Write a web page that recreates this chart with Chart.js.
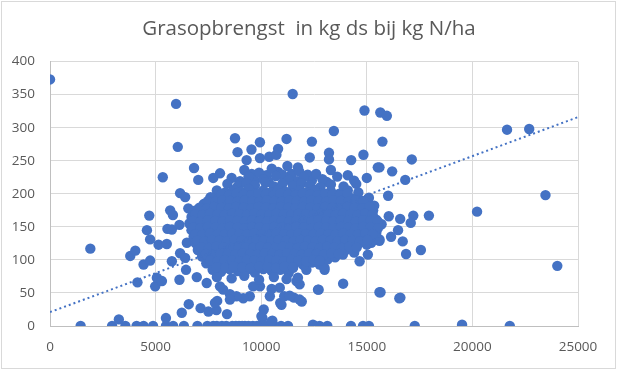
<!DOCTYPE html>
<html>
<head>
<meta charset="utf-8">
<script src="https://cdn.jsdelivr.net/npm/chart.js@4/dist/chart.umd.min.js"></script>
<style>
html,body{margin:0;padding:0;background:#fff;}
#wrap{position:relative;width:618px;height:372px;}
#frame{position:absolute;left:1px;top:1px;width:613px;height:366px;border:1px solid #d9d9d9;pointer-events:none;}
</style>
</head>
<body>
<div id="wrap"><canvas id="c" width="618" height="372"></canvas><div id="frame"></div></div>
<script>
const titel = 'Grasopbrengst  in kg ds bij kg N/ha';
const xTicks = [0, 5000, 10000, 15000, 20000, 25000];
const yTicks = [0, 50, 100, 150, 200, 250, 300, 350, 400];
// trendline endpoints
const trendX = [0, 25000];
const trendY = [21, 316];

// outlying measurements [x, y]
const uitschieters = [
[0,373],[1910,117],[5970,336],[6050,271],[11490,351],[14890,326],[15640,323],[15950,318],[13440,295],
[15740,279],[11200,283],[9940,278],[8760,284],[12400,279],[9540,267],[8880,263],[10800,268],[9940,254],
[10380,256],[10720,259],[9310,251],[13210,262],[13210,252],[14840,259],[12300,255],[14260,251],[15520,240],
[8050,231],[7730,224],[11240,242],[11740,240],[17130,252],[16200,234],[16820,221],[15600,240],[16010,197],
[21640,297],[22690,298],[23460,198],[20220,173],[17940,167],[17200,167],[16580,162],[17080,156],[16040,166],
[16480,145],[16150,135],[15600,129],[16700,128],[16860,109],[17560,115],[24020,91],[15650,51],[16540,42]
];
// measurements at or near zero
const laag = [
[1450,0],[2940,0],[3570,0],[4100,0],[4430,0],[4880,0],[5490,0],[5830,0],[6340,0],[6980,0],[7450,0],[7730,0],
[8140,0],[8630,0],[8950,0],[9230,0],[9600,0],[9970,0],[10400,0],[10940,0],[11270,0],[12520,0],[12760,0],
[13130,0],[14250,0],[14820,0],[15100,0],[17270,0],[19510,2],[21770,0],[7900,0],[8350,0],[8800,0],[9100,0],
[9400,0],[9800,0],[10200,0],[10600,0],
[3260,10],[5490,12],[6240,20],[6570,33],[7130,27],[7500,22],[7880,24],[8380,18],[7915,38],[10060,12],
[10120,25],[10530,8],[10900,35],[11090,45],[11550,43],[11920,37],[12720,55],[13880,64],[15600,51],[16590,43],
[12450,2],[7810,35],[10010,15],[10490,7],[10410,45],[10960,32],[10880,58],[11350,46],[11820,40],[10490,56],
[9940,60],[9460,45],[9150,42],[8830,45],[8520,48],[8200,55],[12690,55],[8520,40],[8050,60],[9620,60],
[11670,68],[11820,63]
];
// measurements around the main cloud
const rand = [
[4140,66],[4980,60],[5060,73],[5300,68],[6130,70],[6950,74],[7420,65],[3800,106],[4040,114],[4430,93],
[4740,99],[5770,98],[6160,110],[6440,85],[6400,103],[4740,131],[5140,123],[4590,145],[5530,124],[5560,147],
[5770,146],[6130,153],[6480,126],[4700,167],[5690,175],[5820,168],[6550,178],[6160,201],[6400,195],[7260,183],
[7660,178],[6950,166],[7260,156],[7020,141],[5340,225],[6820,239],[7020,221],
[12770,93],[13000,85],[13870,108],[14660,98],[15050,108],[15210,126],[15600,131],[12140,85],[11740,73],
[11510,88],[12610,98],[13000,88],
[9550,230],[10250,228],[10800,233],[11450,230],[12200,229],[9000,219],[9700,220],[10350,218],[11100,221],
[11700,219],[12400,220],[13100,218]
];
// main cloud
const kern = [
[9200,236],[9900,232],[10500,238],[11000,229],[11800,234],[12600,230],[13300,236],[14100,228],
[8600,224],[9400,226],[10100,222],[10700,227],[11300,221],[12000,225],[12900,222],[13600,226],[14400,220],[15000,224],
[8400,215],[8900,212],[9300,216],[9700,213],[10200,217],[10600,211],[11000,215],[11500,212],[11900,216],[12300,213],[12800,210],[13300,214],[13900,211],[14500,215],
[7900,205],[8300,202],[8700,206],[9050,203],[9400,207],[9750,201],[10100,205],[10450,202],[10800,206],[11150,203],[11500,200],[11850,205],[12200,202],[12550,206],[12900,201],[13300,204],[13700,200],[14100,205],[14600,202],
[7600,195],[7950,192],[8300,196],[8650,193],[9000,195],[9350,191],[9700,196],[10050,193],[10400,195],[10750,191],[11100,196],[11450,193],[11800,195],[12150,191],[12500,196],[12850,193],[13200,195],[13550,191],[13900,196],[14300,193],[14700,190],[15100,194],
[7300,185],[7650,182],[8000,186],[8350,183],[8700,185],[9050,181],[9400,186],[9750,183],[10100,185],[10450,181],[10800,186],[11150,183],[11500,185],[11850,181],[12200,186],[12550,183],[12900,185],[13250,181],[13600,186],[13950,183],[14300,185],[14650,181],[15000,186],[15350,182],
[6900,175],[7250,172],[7600,176],[7950,173],[8300,175],[8650,171],[9000,176],[9350,173],[9700,175],[10050,171],[10400,176],[10750,173],[11100,175],[11450,171],[11800,176],[12150,173],[12500,175],[12850,171],[13200,176],[13550,173],[13900,175],[14250,171],[14600,176],[14950,173],[15300,175],
[6700,165],[7050,162],[7400,166],[7750,163],[8100,165],[8450,161],[8800,166],[9150,163],[9500,165],[9850,161],[10200,166],[10550,163],[10900,165],[11250,161],[11600,166],[11950,163],[12300,165],[12650,161],[13000,166],[13350,163],[13700,165],[14050,161],[14400,166],[14750,163],[15100,165],[15450,161],
[6600,155],[6950,152],[7300,156],[7650,153],[8000,155],[8350,151],[8700,156],[9050,153],[9400,155],[9750,151],[10100,156],[10450,153],[10800,155],[11150,151],[11500,156],[11850,153],[12200,155],[12550,151],[12900,156],[13250,153],[13600,155],[13950,151],[14300,156],[14650,153],[15000,155],[15350,151],[15700,154],
[6700,145],[7050,142],[7400,146],[7750,143],[8100,145],[8450,141],[8800,146],[9150,143],[9500,145],[9850,141],[10200,146],[10550,143],[10900,145],[11250,141],[11600,146],[11950,143],[12300,145],[12650,141],[13000,146],[13350,143],[13700,145],[14050,141],[14400,146],[14750,143],[15100,145],[15450,141],
[6800,135],[7150,132],[7500,136],[7850,133],[8200,135],[8550,131],[8900,136],[9250,133],[9600,135],[9950,131],[10300,136],[10650,133],[11000,135],[11350,131],[11700,136],[12050,133],[12400,135],[12750,131],[13100,136],[13450,133],[13800,135],[14150,131],[14500,136],[14850,133],[15200,135],
[6900,125],[7250,122],[7600,126],[7950,123],[8300,125],[8650,121],[9000,126],[9350,123],[9700,125],[10050,121],[10400,126],[10750,123],[11100,125],[11450,121],[11800,126],[12150,123],[12500,125],[12850,121],[13200,126],[13550,123],[13900,125],[14250,121],[14600,126],[15000,123],
[7000,115],[7350,112],[7700,116],[8050,113],[8400,115],[8750,111],[9100,116],[9450,113],[9800,115],[10150,111],[10500,116],[10850,113],[11200,115],[11550,111],[11900,116],[12250,113],[12600,115],[12950,111],[13300,116],[13650,113],[14000,115],[14400,111],
[7200,105],[7550,102],[7900,106],[8250,103],[8600,105],[8950,101],[9300,106],[9650,103],[10000,105],[10350,101],[10700,106],[11050,103],[11400,105],[11750,101],[12100,106],[12450,103],[12800,105],[13150,101],[13500,104],
[7400,95],[7750,92],[8100,96],[8450,93],[8800,95],[9150,91],[9500,96],[9850,93],[10200,95],[10550,91],[10900,96],[11250,93],[11600,95],[12000,92],[12400,96],
[7700,85],[8100,82],[8500,86],[8900,83],[9300,85],[9700,81],[10100,86],[10500,83],[10900,85],[11300,80],
[7900,74],[8600,72],[9200,76],[9900,70],[10600,74],[11200,71]
];
// additional measurements filling the densest part of the cloud
const kern2 = [
[8125,199],[8475,198],[8825,200],[9175,199],[9525,198],[9875,200],[10225,199],[10575,198],[10925,200],[11275,199],[11625,198],[11975,200],[12325,199],[12675,198],[13025,200],[13375,199],[13725,198],[14075,200],
[7475,189],[7825,188],[8175,190],[8525,189],[8875,188],[9225,190],[9575,189],[9925,188],[10275,190],[10625,189],[10975,188],[11325,190],[11675,189],[12025,188],[12375,190],[12725,189],[13075,188],[13425,190],[13775,189],[14125,188],[14475,190],[14825,189],
[7075,179],[7425,178],[7775,180],[8125,179],[8475,178],[8825,180],[9175,179],[9525,178],[9875,180],[10225,179],[10575,178],[10925,180],[11275,179],[11625,178],[11975,180],[12325,179],[12675,178],[13025,180],[13375,179],[13725,178],[14075,180],[14425,179],[14775,178],[15125,180],
[6875,169],[7225,168],[7575,170],[7925,169],[8275,168],[8625,170],[8975,169],[9325,168],[9675,170],[10025,169],[10375,168],[10725,170],[11075,169],[11425,168],[11775,170],[12125,169],[12475,168],[12825,170],[13175,169],[13525,168],[13875,170],[14225,169],[14575,168],[14925,170],[15275,169],
[6775,159],[7125,158],[7475,160],[7825,159],[8175,158],[8525,160],[8875,159],[9225,158],[9575,160],[9925,159],[10275,158],[10625,160],[10975,159],[11325,158],[11675,160],[12025,159],[12375,158],[12725,160],[13075,159],[13425,158],[13775,160],[14125,159],[14475,158],[14825,160],[15175,159],[15525,158],
[6775,149],[7125,148],[7475,150],[7825,149],[8175,148],[8525,150],[8875,149],[9225,148],[9575,150],[9925,149],[10275,148],[10625,150],[10975,149],[11325,148],[11675,150],[12025,149],[12375,148],[12725,150],[13075,149],[13425,148],[13775,150],[14125,149],[14475,148],[14825,150],[15175,149],[15525,148],
[6875,139],[7225,138],[7575,140],[7925,139],[8275,138],[8625,140],[8975,139],[9325,138],[9675,140],[10025,139],[10375,138],[10725,140],[11075,139],[11425,138],[11775,140],[12125,139],[12475,138],[12825,140],[13175,139],[13525,138],[13875,140],[14225,139],[14575,138],[14925,140],[15275,139],
[6975,129],[7325,128],[7675,130],[8025,129],[8375,128],[8725,130],[9075,129],[9425,128],[9775,130],[10125,129],[10475,128],[10825,130],[11175,129],[11525,128],[11875,130],[12225,129],[12575,128],[12925,130],[13275,129],[13625,128],[13975,130],[14325,129],[14675,128],[15025,130],
[7175,119],[7525,118],[7875,120],[8225,119],[8575,118],[8925,120],[9275,119],[9625,118],[9975,120],[10325,119],[10675,118],[11025,120],[11375,119],[11725,118],[12075,120],[12425,119],[12775,118],[13125,120],[13475,119],[13825,118],[14175,120],[14525,119],
[7375,109],[7725,108],[8075,110],[8425,109],[8775,108],[9125,110],[9475,109],[9825,108],[10175,110],[10525,109],[10875,108],[11225,110],[11575,109],[11925,108],[12275,110],[12625,109],[12975,108],[13325,110],[13675,109],
[7575,99],[7925,98],[8275,100],[8625,99],[8975,98],[9325,100],[9675,99],[10025,98],[10375,100],[10725,99],[11075,98],[11425,100],[11775,99],[12125,98],[12475,100],[12775,99],
[7900,89],[8300,88],[8700,90],[9100,89],[9500,88],[9900,90],[10300,89],[10700,88],[11100,90],[11500,89]
];

const alle = uitschieters.concat(laag, rand, kern, kern2).map(p => ({x: p[0], y: p[1]}));
const trend = trendX.map((x, i) => ({x: x, y: trendY[i]}));

const blauw = '#4472C4';
const grijs = '#595959';
const tickFont = {family: "'Open Sans', 'Liberation Sans', sans-serif", size: 13.5};

new Chart(document.getElementById('c'), {
  type: 'scatter',
  data: {
    datasets: [
      {
        type: 'line',
        data: trend,
        borderColor: blauw,
        borderWidth: 2,
        borderDash: [2, 3],
        pointRadius: 0,
        fill: false,
        order: 0
      },
      {
        data: alle,
        backgroundColor: blauw,
        borderColor: blauw,
        borderWidth: 0,
        pointRadius: 5.2,
        order: 1
      }
    ]
  },
  options: {
    responsive: false,
    animation: false,
    devicePixelRatio: 1,
    layout: {padding: 0},
    plugins: {
      legend: {display: false},
      tooltip: {enabled: false},
      title: {
        display: true,
        text: titel,
        color: grijs,
        font: {family: "'Open Sans', 'Liberation Sans', sans-serif", size: 20.5, weight: 'normal', lineHeight: 1.2},
        padding: {top: 17, bottom: 20}
      }
    },
    scales: {
      x: {
        type: 'linear',
        min: 0, max: 25000,
        afterBuildTicks: s => { s.ticks = xTicks.map(v => ({value: v})); },
        afterFit: s => { s.height = 46; },
        grid: {color: '#d9d9d9', lineWidth: 1, drawTicks: false},
        border: {color: '#bfbfbf', width: 1},
        ticks: {color: grijs, padding: 13, maxRotation: 0, font: tickFont, callback: v => String(v)}
      },
      y: {
        type: 'linear',
        min: 0, max: 400,
        afterBuildTicks: s => { s.ticks = yTicks.map(v => ({value: v})); },
        afterFit: s => { s.width = 50; },
        grid: {color: '#d9d9d9', lineWidth: 1, drawTicks: false},
        border: {color: '#bfbfbf', width: 1},
        ticks: {color: grijs, padding: 15, font: tickFont, callback: v => String(v)}
      },
      rechts: {
        type: 'linear',
        position: 'right',
        min: 0, max: 400,
        afterFit: s => { s.width = 40; },
        grid: {display: false, drawTicks: false},
        border: {display: false},
        ticks: {display: false}
      }
    }
  }
});
</script>
</body>
</html>
